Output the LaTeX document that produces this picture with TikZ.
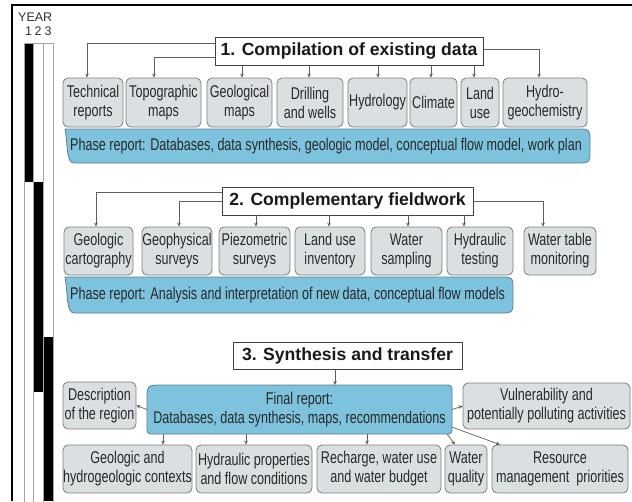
\documentclass[tikz,border=0pt]{standalone}
\usepackage{fontspec}
\setmainfont{Liberation Sans}
\newfontfamily\nar[FakeStretch=0.74]{Liberation Sans}
\usetikzlibrary{arrows.meta,calc}
\definecolor{boxfill}{RGB}{218,224,226}
\definecolor{boxline}{RGB}{125,125,125}
\definecolor{bluefill}{RGB}{125,195,222}
\definecolor{blueline}{RGB}{100,125,140}
\definecolor{conn}{RGB}{95,95,95}
\definecolor{txt}{RGB}{40,40,40}
\definecolor{barline}{RGB}{165,165,165}
\begin{document}
\begin{tikzpicture}[x=1pt,y=-1pt,
  wh/.style 2 args={minimum width=#1pt,minimum height=#2pt},
  box/.style={draw=boxline,fill=boxfill,rounded corners=5pt,line width=0.8pt,align=center,inner sep=0pt,
    font=\nar\fontsize{17}{19}\selectfont,text=txt},
  titlebox/.style={draw=black!75,fill=white,line width=0.8pt,inner sep=0pt,
    font=\bfseries\fontsize{17.6}{20}\selectfont,text=black!90},
  phasetext/.style={inner sep=0pt,align=center,font=\nar\fontsize{17}{19}\selectfont,text=txt},
  phaseshape/.style={draw=blueline,fill=bluefill,line width=0.8pt},
  arr/.style={draw=conn,line width=0.7pt,-{Stealth[length=4pt,width=3.6pt]}},
  barbox/.style={draw=barline,line width=0.8pt},
  yeartext/.style={inner sep=0pt,font=\fontsize{12.5}{14}\selectfont,text=black!80}
]
\useasboundingbox (0,0) rectangle (632,501);
\fill[white] (0,0) rectangle (632,501);
% frame
\draw[line width=1.4pt] (12,501) -- (12,5) -- (632,5);

% year bars
\node[yeartext,anchor=west] (year) at (18,17.5) {YEAR};
\node[yeartext] (y1) at (28.5,31) {1};
\node[yeartext] (y2) at (38,31) {2};
\node[yeartext] (y3) at (48,31) {3};
\fill[black] (24,43) rectangle (33,182);
\fill[black] (33,182) rectangle (43,392);
\fill[black] (43,337) rectangle (53,501);
\draw[barbox] (24,43) rectangle (33,502);
\draw[barbox] (33,43) rectangle (43,502);
\draw[barbox] (43,43) rectangle (53,502);

% ---------- Phase 1 ----------
\node[titlebox,wh={268}{28}] (t1) at (349,51) {1. Compilation of existing data};
\node[box,wh={60}{49}] (tech) at (93,102.5) {Technical\\reports};
\node[box,wh={75}{49}] (topo) at (163.5,102.5) {Topographic\\maps};
\node[box,wh={65}{49}] (geol) at (239.5,102.5) {Geological\\maps};
\node[box,wh={66}{49}] (drill) at (310,102.5) {Drilling\\and wells};
\node[box,wh={59}{49}] (hydro) at (377.5,102.5) {Hydrology};
\node[box,wh={47}{49}] (clim) at (433.5,102.5) {Climate};
\node[box,wh={38}{49}] (land) at (480,102.5) {Land\\use};
\node[box,wh={84}{49}] (hgeo) at (545,102.5) {Hydro-\\geochemistry};

\draw[arr] ([yshift=8pt]t1.west) -| ([xshift=-6pt]tech.north);
\draw[arr] ([yshift=-6pt]t1.west) -| ([xshift=-9.5pt]topo.north);
\draw[arr] ([xshift=2.5pt]geol.north |- t1.south) -- ([xshift=2.5pt]geol.north);
\draw[arr] ([xshift=-1pt]drill.north |- t1.south) -- ([xshift=-1pt]drill.north);
\draw[arr] ([xshift=0.5pt]hydro.north |- t1.south) -- ([xshift=0.5pt]hydro.north);
\draw[arr] ([xshift=-2.5pt]clim.north |- t1.south) -- ([xshift=-2.5pt]clim.north);
\draw[arr] ([xshift=-6pt]land.north |- t1.south) -- ([xshift=-6pt]land.north);
\draw[arr] ([yshift=2pt]t1.east) -| ([xshift=-6pt]hgeo.north);

\path[phaseshape] (65,129) -- (580,129) .. controls (590,129) and (590,131) .. (590,140)
  -- (590,152) .. controls (590,161) and (590,163) .. (580,163) -- (74,163)
  .. controls (66,163) and (68,145) .. (65,129) -- cycle;
\node[phasetext,anchor=west] (ph1) at (70,146.5) {Phase report: Databases, data synthesis, geologic model, conceptual flow model, work plan};

% ---------- Phase 2 ----------
\node[titlebox,wh={251}{28}] (t2) at (347.5,201) {2. Complementary fieldwork};
\node[box,wh={69}{48}] (gcart) at (98.5,251) {Geologic\\cartography};
\node[box,wh={70}{48}] (gphys) at (177,251) {Geophysical\\surveys};
\node[box,wh={71}{48}] (piez) at (254.5,251) {Piezometric\\surveys};
\node[box,wh={70}{48}] (luinv) at (330,251) {Land use\\inventory};
\node[box,wh={71}{48}] (wsamp) at (406.5,251) {Water\\sampling};
\node[box,wh={66}{48}] (htest) at (480,251) {Hydraulic\\testing};
\node[box,wh={72}{48}] (wtm) at (560,251) {Water table\\monitoring};

\draw[arr] ([yshift=9pt]t2.west) -| ([xshift=-2.5pt]gcart.north);
\draw[arr] (t2.west) -| ([xshift=2pt]gphys.north);
\draw[arr] ([xshift=1.5pt]piez.north |- t2.south) -- ([xshift=1.5pt]piez.north);
\draw[arr] ([xshift=-1pt]luinv.north |- t2.south) -- ([xshift=-1pt]luinv.north);
\draw[arr] ([xshift=1.5pt]wsamp.north |- t2.south) -- ([xshift=1.5pt]wsamp.north);
\draw[arr] ([xshift=-16pt]htest.north |- t2.south) -- ([xshift=-16pt]htest.north);
\draw[arr] (t2.east) -| ([xshift=-17pt]wtm.north);

\path[phaseshape] (65,277) -- (503,277) .. controls (513,277) and (513,279) .. (513,288)
  -- (513,302) .. controls (513,311) and (513,313) .. (503,313) -- (74,313)
  .. controls (66,313) and (68,293) .. (65,277) -- cycle;
\node[phasetext,anchor=west] (ph2) at (70,295.5) {Phase report: Analysis and interpretation of new data, conceptual flow models};

% ---------- Phase 3 ----------
\node[titlebox,wh={229}{27}] (t3) at (347.5,355.5) {3. Synthesis and transfer};
\path[phaseshape] (163,385) -- (444,385) .. controls (452,385) .. (452,393) -- (452,426)
  .. controls (452,434) .. (444,434) -- (155,434) .. controls (147,434) .. (147,426)
  -- (147,401) .. controls (147,385) .. (163,385) -- cycle;
\node[phasetext,wh={305}{49}] (fr) at (299.5,409.5) {Final report:\\Databases, data synthesis, maps, recommendations};
\node[box,wh={73}{47}] (desc) at (99.5,405.5) {Description\\of the region};
\node[box,wh={167}{46}] (vuln) at (546.5,406) {Vulnerability and\\potentially polluting activities};
\node[box,wh={129}{48}] (geoc) at (127.5,469) {Geologic and\\hydrogeologic contexts};
\node[box,wh={116}{48}] (hprop) at (254,469) {Hydraulic properties\\and flow conditions};
\node[box,wh={124}{48}] (rech) at (379,469) {Recharge, water use\\and water budget};
\node[box,wh={42}{48}] (wq) at (466,469) {Water\\quality};
\node[box,wh={136}{48}] (rmp) at (560,469) {Resource\\management\ \ priorities};

\draw[arr] ([xshift=-12.5pt]t3.south) -- ([xshift=-12.5pt]t3.south |- fr.north);
\draw[arr] (fr.west) -- (desc.east);
\draw[arr] (fr.east) -- (vuln.west);
\draw[arr] ([xshift=35.5pt]geoc.north |- fr.south) -- ([xshift=35.5pt]geoc.north);
\draw[arr] ([xshift=-8pt]hprop.north |- fr.south) -- ([xshift=-8pt]hprop.north);
\draw[arr] ([xshift=-12pt]rech.north |- fr.south) -- ([xshift=-12pt]rech.north);
\draw[arr] ([xshift=-5pt]fr.south east) -- ([xshift=-11pt]wq.north);
\draw[arr] ([yshift=7pt]fr.south east) -- ([xshift=-60pt]rmp.north);
\end{tikzpicture}
\end{document}
